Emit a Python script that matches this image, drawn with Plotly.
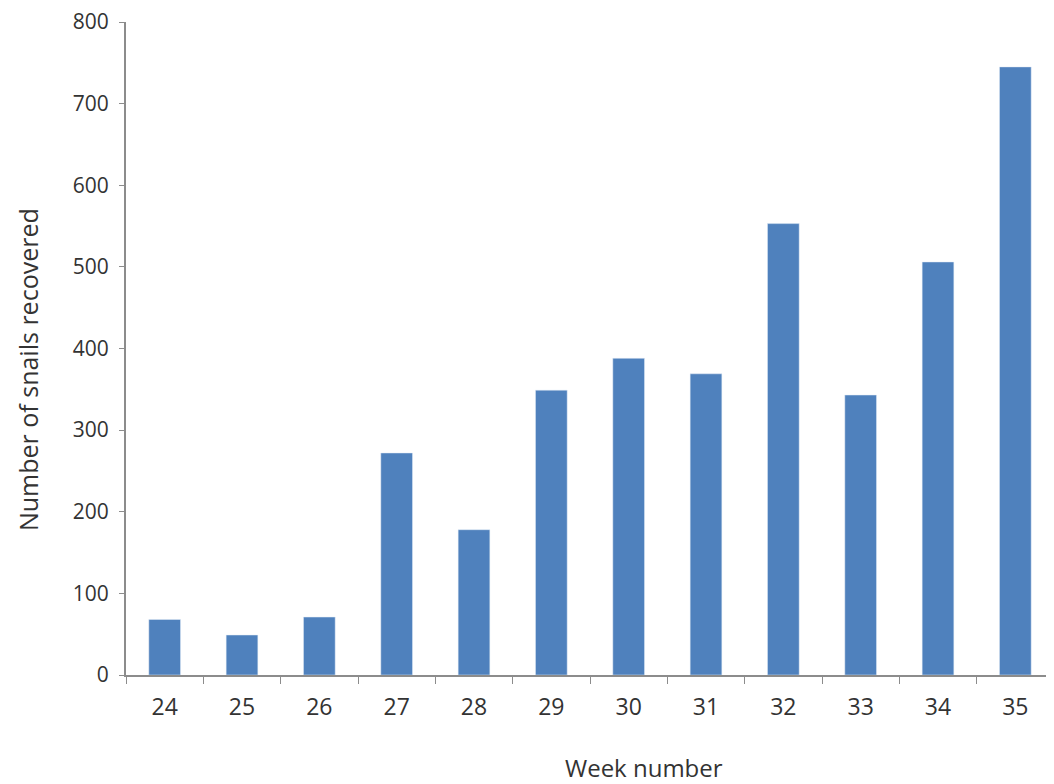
import plotly.graph_objects as go

weeks = ["24", "25", "26", "27", "28", "29", "30", "31", "32", "33", "34", "35"]
snails = [68, 49, 71, 272, 178, 349, 388, 369, 553, 343, 506, 745]
y_ticks = [0, 100, 200, 300, 400, 500, 600, 700, 800]

fig = go.Figure(go.Bar(x=weeks, y=snails, marker_color="#4F81BD", width=0.41))

font_family = "Open Sans, Liberation Sans, sans-serif"
text_color = "#333333"
fig.update_layout(
    width=1046, height=776,
    margin=dict(l=118, r=0, t=14, b=109),
    plot_bgcolor="white", paper_bgcolor="white",
    font=dict(family=font_family, size=16, color=text_color),
    showlegend=False,
    annotations=[
        dict(text="Number of snails recovered", textangle=-90,
             xref="paper", yref="paper", x=-0.1056, y=0.467,
             xanchor="center", yanchor="middle", showarrow=False,
             font=dict(size=25, color=text_color)),
        dict(text="Week number",
             xref="paper", yref="paper", x=0.558, y=-0.1424,
             xanchor="center", yanchor="middle", showarrow=False,
             font=dict(size=24, color=text_color)),
    ],
)
fig.update_xaxes(
    type="category", range=[-0.5, 11.5], automargin=False,
    showline=True, linecolor="#8c8c8c", linewidth=2,
    ticks="outside", tickson="boundaries", ticklen=7, tickcolor="#8c8c8c", tickwidth=1,
    ticklabelstandoff=10, ticklabeloverflow="allow",
    showgrid=False, tickfont=dict(size=23, color=text_color),
)
fig.update_yaxes(
    range=[0, 800], tickvals=y_ticks, automargin=False,
    showline=True, linecolor="#8c8c8c", linewidth=2,
    ticks="outside", ticklen=5, tickcolor="#8c8c8c", tickwidth=1,
    ticklabelstandoff=6, ticklabeloverflow="allow",
    showgrid=False, zeroline=False, tickfont=dict(size=21, color=text_color),
)
fig.write_html("out.html")
